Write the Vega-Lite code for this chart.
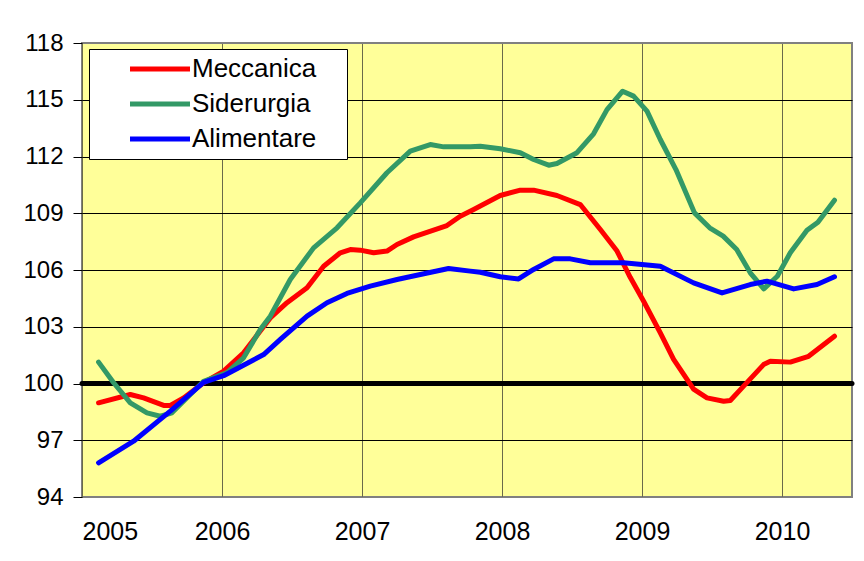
{
  "$schema": "https://vega.github.io/schema/vega-lite/v6.json",
  "autosize": {"type": "none"},
  "width": 770,
  "height": 454,
  "padding": {"left": 82, "top": 43, "right": 12, "bottom": 64},
  "background": "white",
  "config": {
    "font": "Liberation Sans",
    "view": {"fill": "#FFFF99", "stroke": "#808080", "strokeWidth": 2},
    "axis": {"labelColor": "black", "labelFont": "Liberation Sans"}
  },
  "datasets": {
    "series": [
      {"s":"Meccanica","t":1.42,"v":98.98},{"s":"Meccanica","t":4.14,"v":99.42},{"s":"Meccanica","t":5.28,"v":99.24},{"s":"Meccanica","t":7.0,"v":98.84},{"s":"Meccanica","t":7.57,"v":98.84},{"s":"Meccanica","t":8.71,"v":99.24},{"s":"Meccanica","t":10.42,"v":100.04},{"s":"Meccanica","t":12.14,"v":100.65},{"s":"Meccanica","t":13.85,"v":101.62},{"s":"Meccanica","t":16.14,"v":103.47},{"s":"Meccanica","t":17.57,"v":104.27},{"s":"Meccanica","t":19.29,"v":105.06},{"s":"Meccanica","t":20.71,"v":106.2},{"s":"Meccanica","t":22.14,"v":106.91},{"s":"Meccanica","t":23.0,"v":107.08},{"s":"Meccanica","t":23.85,"v":107.05},{"s":"Meccanica","t":25.0,"v":106.91},{"s":"Meccanica","t":26.14,"v":107.0},{"s":"Meccanica","t":27.0,"v":107.35},{"s":"Meccanica","t":28.42,"v":107.75},{"s":"Meccanica","t":31.28,"v":108.35},{"s":"Meccanica","t":32.42,"v":108.84},{"s":"Meccanica","t":33.57,"v":109.2},{"s":"Meccanica","t":35.85,"v":109.94},{"s":"Meccanica","t":37.57,"v":110.22},{"s":"Meccanica","t":38.71,"v":110.22},{"s":"Meccanica","t":40.71,"v":109.94},{"s":"Meccanica","t":42.71,"v":109.46},{"s":"Meccanica","t":44.43,"v":108.14},{"s":"Meccanica","t":45.86,"v":107.0},{"s":"Meccanica","t":47.0,"v":105.6},{"s":"Meccanica","t":48.14,"v":104.35},{"s":"Meccanica","t":49.57,"v":102.68},{"s":"Meccanica","t":50.71,"v":101.27},{"s":"Meccanica","t":52.42,"v":99.7},{"s":"Meccanica","t":53.57,"v":99.24},{"s":"Meccanica","t":55.0,"v":99.06},{"s":"Meccanica","t":55.57,"v":99.1},{"s":"Meccanica","t":56.71,"v":99.86},{"s":"Meccanica","t":58.42,"v":101.0},{"s":"Meccanica","t":59.0,"v":101.18},{"s":"Meccanica","t":60.71,"v":101.13},{"s":"Meccanica","t":62.28,"v":101.44},{"s":"Meccanica","t":64.5,"v":102.5},
      {"s":"Siderurgia","t":1.42,"v":101.13},{"s":"Siderurgia","t":2.71,"v":100.04},{"s":"Siderurgia","t":4.14,"v":98.98},{"s":"Siderurgia","t":5.57,"v":98.45},{"s":"Siderurgia","t":6.71,"v":98.27},{"s":"Siderurgia","t":7.71,"v":98.45},{"s":"Siderurgia","t":10.42,"v":100.12},{"s":"Siderurgia","t":12.43,"v":100.57},{"s":"Siderurgia","t":13.85,"v":101.36},{"s":"Siderurgia","t":15.28,"v":102.85},{"s":"Siderurgia","t":16.14,"v":103.56},{"s":"Siderurgia","t":17.85,"v":105.5},{"s":"Siderurgia","t":19.85,"v":107.17},{"s":"Siderurgia","t":21.86,"v":108.23},{"s":"Siderurgia","t":23.85,"v":109.55},{"s":"Siderurgia","t":26.14,"v":111.14},{"s":"Siderurgia","t":28.14,"v":112.28},{"s":"Siderurgia","t":29.85,"v":112.63},{"s":"Siderurgia","t":31.0,"v":112.51},{"s":"Siderurgia","t":33.28,"v":112.51},{"s":"Siderurgia","t":34.14,"v":112.54},{"s":"Siderurgia","t":35.85,"v":112.41},{"s":"Siderurgia","t":37.57,"v":112.2},{"s":"Siderurgia","t":38.71,"v":111.84},{"s":"Siderurgia","t":40.0,"v":111.54},{"s":"Siderurgia","t":40.71,"v":111.63},{"s":"Siderurgia","t":42.43,"v":112.2},{"s":"Siderurgia","t":43.85,"v":113.2},{"s":"Siderurgia","t":45.0,"v":114.48},{"s":"Siderurgia","t":46.34,"v":115.45},{"s":"Siderurgia","t":47.28,"v":115.19},{"s":"Siderurgia","t":48.43,"v":114.4},{"s":"Siderurgia","t":49.57,"v":112.9},{"s":"Siderurgia","t":50.91,"v":111.31},{"s":"Siderurgia","t":52.5,"v":109.02},{"s":"Siderurgia","t":53.8,"v":108.23},{"s":"Siderurgia","t":54.96,"v":107.79},{"s":"Siderurgia","t":56.12,"v":107.08},{"s":"Siderurgia","t":57.28,"v":105.85},{"s":"Siderurgia","t":58.44,"v":105.0},{"s":"Siderurgia","t":59.6,"v":105.67},{"s":"Siderurgia","t":60.71,"v":106.91},{"s":"Siderurgia","t":62.14,"v":108.1},{"s":"Siderurgia","t":63.08,"v":108.53},{"s":"Siderurgia","t":64.5,"v":109.69},
      {"s":"Alimentare","t":1.42,"v":95.81},{"s":"Alimentare","t":4.42,"v":96.95},{"s":"Alimentare","t":7.57,"v":98.54},{"s":"Alimentare","t":10.42,"v":100.06},{"s":"Alimentare","t":12.14,"v":100.41},{"s":"Alimentare","t":15.57,"v":101.53},{"s":"Alimentare","t":17.0,"v":102.33},{"s":"Alimentare","t":19.29,"v":103.56},{"s":"Alimentare","t":21.0,"v":104.27},{"s":"Alimentare","t":22.71,"v":104.76},{"s":"Alimentare","t":24.71,"v":105.15},{"s":"Alimentare","t":27.0,"v":105.5},{"s":"Alimentare","t":29.0,"v":105.76},{"s":"Alimentare","t":31.42,"v":106.08},{"s":"Alimentare","t":33.28,"v":105.94},{"s":"Alimentare","t":34.14,"v":105.88},{"s":"Alimentare","t":35.85,"v":105.64},{"s":"Alimentare","t":37.42,"v":105.53},{"s":"Alimentare","t":38.71,"v":106.03},{"s":"Alimentare","t":40.42,"v":106.59},{"s":"Alimentare","t":41.85,"v":106.59},{"s":"Alimentare","t":43.57,"v":106.38},{"s":"Alimentare","t":46.42,"v":106.38},{"s":"Alimentare","t":49.57,"v":106.2},{"s":"Alimentare","t":52.42,"v":105.32},{"s":"Alimentare","t":54.86,"v":104.79},{"s":"Alimentare","t":57.28,"v":105.23},{"s":"Alimentare","t":58.71,"v":105.41},{"s":"Alimentare","t":61.0,"v":105.0},{"s":"Alimentare","t":63.0,"v":105.23},{"s":"Alimentare","t":64.5,"v":105.64}
    ],
    "base": [{"ref": 100}]
  },
  "layer": [
    {
      "data": {"name": "base"},
      "mark": {"type": "rule", "color": "black", "strokeWidth": 5, "strokeCap": "round"},
      "encoding": {"y": {"field": "ref", "type": "quantitative", "scale": {"domain": [94, 118], "nice": false, "zero": false}}}
    },
    {
      "data": {"name": "series"},
      "mark": {"type": "line", "strokeWidth": 5, "strokeCap": "round", "strokeJoin": "round"},
      "encoding": {
        "x": {
          "field": "t", "type": "quantitative",
          "scale": {"domain": [0, 66], "nice": false, "zero": false},
          "axis": {
            "title": null, "values": [0, 12, 24, 36, 48, 60],
            "labelExpr": "'' + (2005 + datum.value / 12)",
            "labelDx": 17.5, "labelFontSize": 25, "labelPadding": 22,
            "ticks": false, "domain": false,
            "grid": true, "gridColor": "#6a6a4a", "gridWidth": 1
          }
        },
        "y": {
          "field": "v", "type": "quantitative",
          "scale": {"domain": [94, 118], "nice": false, "zero": false},
          "axis": {
            "title": null, "values": [94, 97, 100, 103, 106, 109, 112, 115, 118],
            "labelFontSize": 24, "labelPadding": 10,
            "ticks": true, "tickSize": 9, "tickColor": "black",
            "domain": false,
            "grid": true,
            "gridColor": {"condition": {"test": "datum.value == 118 || datum.value == 94", "value": "#808080"}, "value": "black"},
            "gridWidth": 1
          }
        },
        "color": {
          "field": "s", "type": "nominal",
          "scale": {"domain": ["Meccanica", "Siderurgia", "Alimentare"], "range": ["#FF0000", "#339966", "#0000FF"]},
          "legend": {
            "title": "\u00a0", "titleOrient": "right", "titlePadding": 24, "titleFontSize": 10,
            "orient": "none", "legendX": 7, "legendY": 6,
            "direction": "vertical",
            "symbolType": "M-3,0H3", "symbolSize": 400, "symbolStrokeWidth": 5,
            "symbolOffset": 51, "labelOffset": 19,
            "labelFontSize": 26, "labelFont": "Liberation Sans", "labelColor": "black",
            "rowPadding": 9, "padding": 7,
            "fillColor": "white", "strokeColor": "black", "cornerRadius": 0
          }
        }
      }
    }
  ]
}
